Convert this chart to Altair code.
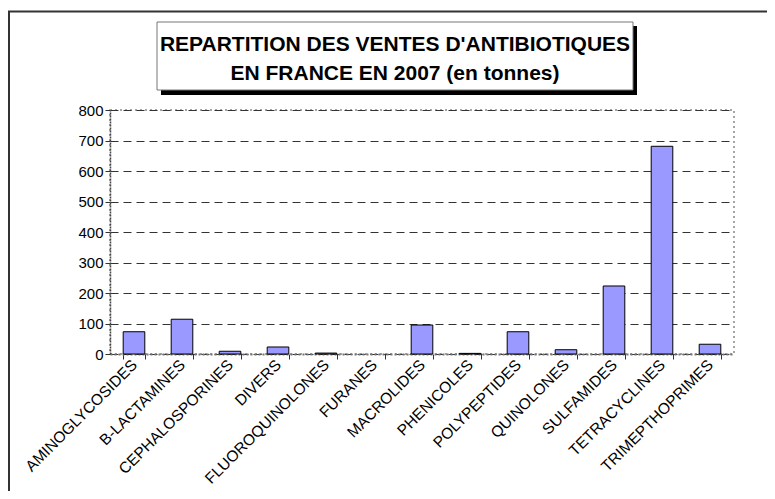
import altair as alt
import pandas as pd

categories = ["AMINOGLYCOSIDES", "B-LACTAMINES", "CEPHALOSPORINES", "DIVERS",
              "FLUOROQUINOLONES", "FURANES", "MACROLIDES", "PHENICOLES",
              "POLYPEPTIDES", "QUINOLONES", "SULFAMIDES", "TETRACYCLINES",
              "TRIMEPTHOPRIMES"]
values = [73, 114, 9, 23, 3, 0, 95, 2, 73, 14, 223, 681, 32]
y_ticks = [0, 100, 200, 300, 400, 500, 600, 700, 800]
title_lines = ["REPARTITION DES VENTES D'ANTIBIOTIQUES", "EN FRANCE EN 2007 (en tonnes)"]

df = pd.DataFrame({"cat": categories, "val": values})
one = alt.Data(values=[{"k": 1}])

FONT = "Liberation Sans"

bars = alt.Chart(df).mark_bar(color="#9999FF", strokeWidth=1).encode(
    x=alt.X("cat:N", sort=categories,
            scale=alt.Scale(paddingInner=0.55, paddingOuter=0.275),
            axis=alt.Axis(title=None, labelAngle=315, labelAlign="right",
                          labelBaseline="middle", labelFont=FONT, labelFontSize=15.5,
                          labelColor="black", labelPadding=3, tickBand="extent",
                          ticks=True, tickSize=5, tickColor="#333", tickWidth=1,
                          domainColor="#777", domainDash=[2, 2], domainWidth=2,
                          grid=False, labelLimit=300)),
    y=alt.Y("val:Q", scale=alt.Scale(domain=[0, 800], nice=False),
            axis=alt.Axis(title=None, values=y_ticks, labelFont=FONT, labelFontSize=15,
                          labelColor="black", labelPadding=2, tickSize=5, tickColor="#333",
                          domainColor="#444", domainDash=[2, 1], domainWidth=1.5,
                          grid=True, gridColor="#333", gridDash=[8, 5], gridWidth=1)),
    stroke=alt.condition(alt.datum.val > 0, alt.value("black"), alt.value("transparent")),
)

frame = alt.Chart(one).mark_rect(fill=None, stroke="#333", strokeWidth=2).encode(
    x=alt.value(-101), x2=alt.value(800), y=alt.value(-98.5), y2=alt.value(500))

shadow = alt.Chart(one).mark_rect(fill="black").encode(
    x=alt.value(51), x2=alt.value(527), y=alt.value(-84), y2=alt.value(-15))
box = alt.Chart(one).mark_rect(fill="white", stroke="#777", strokeWidth=1).encode(
    x=alt.value(47), x2=alt.value(523), y=alt.value(-88), y2=alt.value(-20))

t1 = alt.Chart(one).mark_text(text=title_lines[0], font=FONT, fontSize=21, fontWeight="bold",
                              align="center", baseline="alphabetic", color="black").encode(
    x=alt.value(285), y=alt.value(-59.5))
t2 = alt.Chart(one).mark_text(text=title_lines[1], font=FONT, fontSize=21, fontWeight="bold",
                              align="center", baseline="alphabetic", color="black").encode(
    x=alt.value(285), y=alt.value(-30.5))

chart = alt.layer(frame, bars, shadow, box, t1, t2).properties(
    width=624, height=244,
    autosize=alt.AutoSizeParams(type="none"),
    padding={"left": 102, "top": 102, "right": 33, "bottom": 137},
).configure_view(stroke="#888", strokeDash=[2, 3], strokeWidth=1.5)

chart.save("out.html", embed_options={"renderer": "svg", "actions": False})
